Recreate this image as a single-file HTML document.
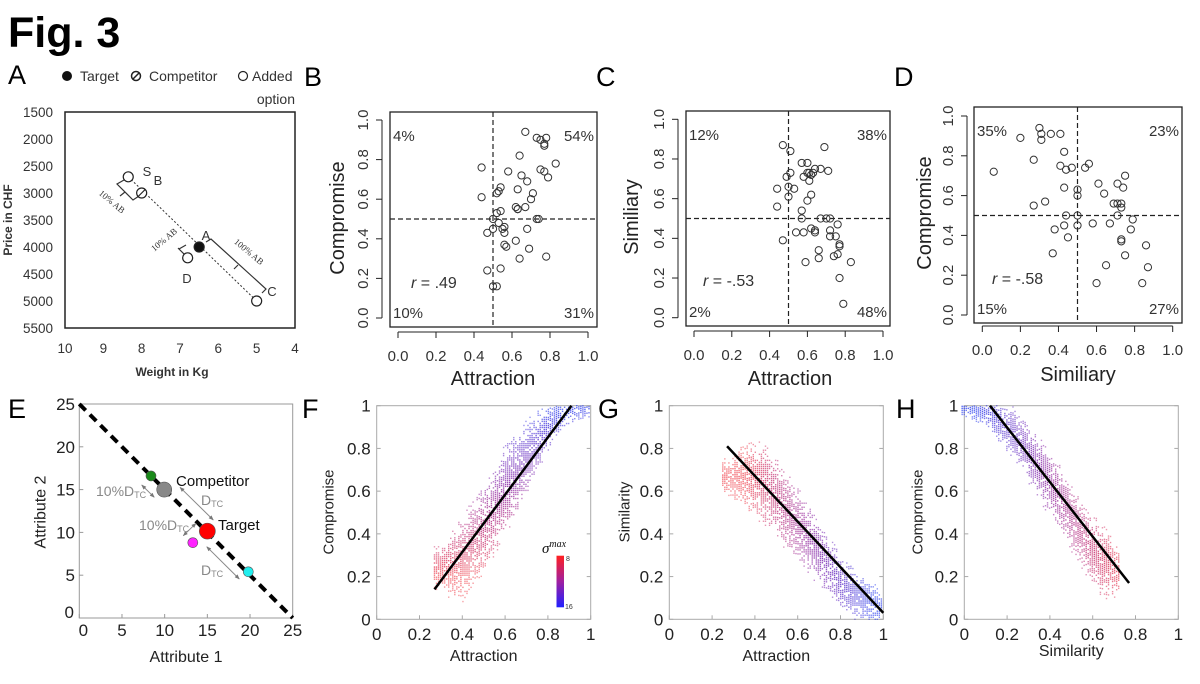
<!DOCTYPE html>
<html><head><meta charset="utf-8">
<style>
html,body{margin:0;padding:0;background:#fff;}
svg{display:block;font-family:"Liberation Sans",Arial,sans-serif;}
</style></head>
<body>
<svg id="fig" width="1200" height="684" viewBox="0 0 1200 684" xmlns="http://www.w3.org/2000/svg">
<defs>
<linearGradient id="cbar" x1="0" y1="0" x2="0" y2="1">
<stop offset="0" stop-color="#ff2020"/><stop offset="0.5" stop-color="#a020a0"/><stop offset="1" stop-color="#2020ff"/>
</linearGradient>
<marker id="arr" viewBox="0 0 10 10" refX="9" refY="5" markerWidth="5" markerHeight="5" orient="auto-start-reverse">
<path d="M0,1 L10,5 L0,9 z" fill="#777"/>
</marker>
</defs>
<text x="8" y="47" font-size="43" font-weight="bold">Fig. 3</text>
</svg>
<script>
// ---------- data ----------
// Panel A
var aWeight=[8.35,8,6.5,6.8,5];
var aPrice=[2700,3000,4000,4200,5000];
var aNames=["S","B","A","D","C"];
var aYTicks=[1500,2000,2500,3000,3500,4000,4500,5000,5500];
var aXTicks=[10,9,8,7,6,5,4];
// Panel B (attraction, compromise)
var bX=[0.67,0.73,0.75,0.78,0.77,0.77,0.64,0.83,0.44,0.75,0.77,0.79,0.58,0.65,0.68,0.54,0.53,0.52,0.63,0.71,0.44,0.70,0.63,0.62,0.63,0.67,0.54,0.52,0.73,0.74,0.50,0.53,0.56,0.50,0.55,0.68,0.47,0.56,0.62,0.56,0.57,0.69,0.78,0.64,0.54,0.47,0.50,0.52];
var bY=[0.94,0.91,0.90,0.91,0.88,0.87,0.82,0.78,0.76,0.75,0.74,0.71,0.74,0.72,0.69,0.66,0.64,0.63,0.65,0.63,0.61,0.60,0.55,0.56,0.55,0.56,0.54,0.53,0.50,0.50,0.50,0.48,0.46,0.45,0.45,0.45,0.43,0.43,0.39,0.37,0.36,0.35,0.31,0.30,0.25,0.24,0.16,0.16];
// Panel C (attraction, similarity)
var cX=[0.47,0.51,0.69,0.57,0.60,0.64,0.67,0.71,0.60,0.61,0.58,0.62,0.63,0.51,0.49,0.61,0.50,0.44,0.53,0.62,0.50,0.60,0.44,0.57,0.57,0.67,0.70,0.72,0.76,0.62,0.64,0.64,0.54,0.58,0.72,0.72,0.75,0.47,0.77,0.77,0.66,0.66,0.74,0.76,0.59,0.83,0.77,0.79];
var cY=[0.87,0.84,0.86,0.78,0.78,0.75,0.75,0.74,0.73,0.73,0.71,0.72,0.73,0.73,0.71,0.69,0.66,0.65,0.65,0.62,0.61,0.59,0.56,0.54,0.50,0.50,0.50,0.50,0.47,0.45,0.44,0.43,0.43,0.43,0.44,0.41,0.41,0.39,0.37,0.36,0.34,0.30,0.31,0.32,0.28,0.28,0.20,0.07];
// Panel D (similarity, compromise)
var dX=[0.06,0.20,0.30,0.31,0.31,0.36,0.41,0.27,0.43,0.41,0.44,0.47,0.54,0.56,0.43,0.50,0.50,0.33,0.27,0.44,0.50,0.43,0.50,0.38,0.45,0.37,0.61,0.64,0.71,0.75,0.74,0.69,0.71,0.73,0.73,0.71,0.79,0.58,0.67,0.78,0.73,0.73,0.86,0.75,0.65,0.87,0.60,0.84];
var dY=[0.72,0.89,0.94,0.91,0.88,0.91,0.91,0.78,0.82,0.75,0.73,0.74,0.74,0.76,0.64,0.63,0.60,0.57,0.55,0.50,0.50,0.45,0.45,0.43,0.39,0.31,0.66,0.61,0.66,0.70,0.64,0.56,0.56,0.56,0.54,0.50,0.48,0.46,0.46,0.43,0.38,0.37,0.35,0.30,0.25,0.24,0.16,0.16];
var rTicks=[0.0,0.2,0.4,0.6,0.8,1.0];
var rTickLabels=["0.0","0.2","0.4","0.6","0.8","1.0"];
// Panel E
var eX=[8.4,9.95,15,13.3,19.8];
var eY=[16.6,15,10.15,8.8,5.4];
var eColor=["#1a8a1a","#888888","#ff0000","#ff22ff","#22eeee"];
var eR=[5,7.5,8,5,5];
var eNames=["added-option-similarity","competitor-point","target-point","added-option-attraction","added-option-compromise"];
var eTicks=[0,5,10,15,20,25];
// Panels F,G,H density bands
var fBx=[0.30,0.35,0.40,0.45,0.50,0.55,0.60,0.65,0.70,0.75,0.80,0.85,0.90,0.95,1.00];
var fLo=[0.18,0.13,0.12,0.17,0.25,0.33,0.42,0.52,0.62,0.72,0.82,0.90,0.95,0.97,0.98];
var fHi=[0.30,0.38,0.45,0.52,0.60,0.68,0.78,0.85,0.90,0.94,0.98,1.00,1.00,1.00,1.00];
var fLine=[[0.27,0.14],[0.91,1.0]];
var gBx=[0.28,0.32,0.36,0.40,0.45,0.50,0.55,0.60,0.65,0.70,0.75,0.80,0.85,0.90,0.95,1.00];
var gLo=[0.62,0.58,0.55,0.52,0.47,0.42,0.36,0.30,0.25,0.20,0.14,0.08,0.04,0.02,0.01,0.03];
var gHi=[0.72,0.76,0.79,0.80,0.78,0.72,0.65,0.58,0.50,0.42,0.34,0.27,0.22,0.18,0.14,0.08];
var gLine=[[0.27,0.81],[1.0,0.03]];
var hBx=[0.02,0.05,0.10,0.15,0.20,0.25,0.30,0.35,0.40,0.45,0.50,0.55,0.60,0.65,0.70,0.73];
var hLo=[0.98,0.96,0.94,0.88,0.82,0.76,0.68,0.60,0.52,0.44,0.36,0.28,0.20,0.14,0.13,0.18];
var hHi=[1.00,1.00,1.00,1.00,0.98,0.94,0.88,0.82,0.75,0.68,0.60,0.52,0.45,0.40,0.34,0.28];
var hLine=[[0.12,1.0],[0.77,0.17]];
var mTicks=[0,0.2,0.4,0.6,0.8,1];
var mTickLabels=["0","0.2","0.4","0.6","0.8","1"];

// ---------- helpers ----------
var NS="http://www.w3.org/2000/svg";
var svg=document.getElementById('fig');
function mk(tag,attrs,parent){var e=document.createElementNS(NS,tag);for(var k in attrs)e.setAttribute(k,attrs[k]);(parent||svg).appendChild(e);return e;}
function txt(s,attrs,parent){var e=mk('text',attrs,parent);e.textContent=s;return e;}
function lin(a,b,t){return a+(b-a)*t;}

// panel letters
var letters=[["A",8,84],["B",304,86],["C",596,86],["D",894,86],["E",8,418],["F",302,418],["G",598,418],["H",896,418]];
letters.forEach(function(L){
  var t=txt(L[0],{x:L[1],y:L[2],'font-size':27});
  
  
});

// ---------- Panel A ----------
(function(){
  var g=mk('g',{});
  
  
  function ax(w){return 65+(10-w)*38.33;}
  function ay(p){return 112+(p-1500)*0.054;}
  var box=mk('rect',{x:65,y:112,width:230,height:216,fill:'none',stroke:'#222','stroke-width':1.5},g);
  
  
  aYTicks.forEach(function(v){
    var t=txt(String(v),{x:53,y:ay(v)+5,'font-size':13.5,'text-anchor':'end',fill:'#333'},g);
    
    
  });
  aXTicks.forEach(function(v){
    var t=txt(String(v),{x:ax(v),y:353,'font-size':13.5,'text-anchor':'middle',fill:'#333'},g);
    
    
  });
  var yt=txt("Price in CHF",{x:12,y:220,'font-size':12,'font-weight':'bold','text-anchor':'middle',transform:'rotate(-90 12 220)',fill:'#333'},g);
  
  
  var xt=txt("Weight in Kg",{x:172,y:376,'font-size':12,'font-weight':'bold','text-anchor':'middle',fill:'#333'},g);
  
  
  var dl=mk('line',{x1:ax(aWeight[0]),y1:ay(aPrice[0]),x2:ax(aWeight[4]),y2:ay(aPrice[4]),stroke:'#333','stroke-width':1,'stroke-dasharray':'2,2'},g);
  
  
  ["M124,180 L117,184 L133,200 L139,196 M125,192 L120,196","M186,245 L179,249 L186,256 L190,253 M182,252 L178,248","M206,242 L211,239 L266,289 L262,293 M238,265 L234,269"].forEach(function(d){
    var p=mk('path',{d:d,fill:'none',stroke:'#333','stroke-width':1.2},g);
    
    
  });
  [["10% AB",110,204,40],["10% AB",166,242,-40],["100% AB",247,254,40]].forEach(function(L){
    var t=txt(L[0],{x:L[1],y:L[2],'font-size':9,'font-family':'Liberation Serif, serif','text-anchor':'middle',fill:'#333',transform:'rotate('+L[3]+' '+L[1]+' '+L[2]+')'},g);
    
    
  });
  aWeight.forEach(function(w,i){
    var c=mk('circle',{cx:ax(w),cy:ay(aPrice[i]),r:5,fill:aNames[i]==='A'?'#111':'#fff',stroke:'#222','stroke-width':1.2},g);
    
    
    if(aNames[i]==='B'){
      var s=mk('line',{x1:ax(w)-3.5,y1:ay(aPrice[i])+3.5,x2:ax(w)+3.5,y2:ay(aPrice[i])-3.5,stroke:'#222','stroke-width':1.2},g);
      
      
    }
  });
  [["S",147,176],["B",158,185],["A",206,240],["D",187,283],["C",272,296]].forEach(function(L){
    var t=txt(L[0],{x:L[1],y:L[2],'font-size':13,'text-anchor':'middle',fill:'#333'},g);
    
    
  });
  var lg=mk('g',{},g);
  
  
  var c1=mk('circle',{cx:67,cy:76,r:5,fill:'#111'},lg);
  
  
  var t1=txt("Target",{x:80,y:81,'font-size':14,fill:'#333'},lg);
  
  
  var c2=mk('circle',{cx:136,cy:76,r:4.5,fill:'#fff',stroke:'#222','stroke-width':1.5},lg);
  
  
  var h2=mk('line',{x1:133,y1:79,x2:139,y2:73,stroke:'#222','stroke-width':1.5},lg);
  
  
  var t2=txt("Competitor",{x:149,y:81,'font-size':14,fill:'#333'},lg);
  
  
  var c3=mk('circle',{cx:243,cy:76,r:4.5,fill:'#fff',stroke:'#222','stroke-width':1.2},lg);
  
  
  var t3=txt("Added",{x:252,y:81,'font-size':14,fill:'#333'},lg);
  
  
  var t4=txt("option",{x:295,y:104,'font-size':14,'text-anchor':'end',fill:'#333'},lg);
  
  
})();

// ---------- R style scatter panels ----------
function rPanel(c){
  var g=mk('g',{});
  
  
  function sx(v){return c.x0+(c.x1-c.x0)*v;}
  function sy(v){return c.y0+(c.y1-c.y0)*v;}
  var box=mk('rect',{x:c.bx0,y:c.by0,width:c.bx1-c.bx0,height:c.by1-c.by0,fill:'none',stroke:'#222','stroke-width':1.3},g);
  
  
  var xa=mk('line',{x1:sx(0),y1:c.axY,x2:sx(1),y2:c.axY,stroke:'#222','stroke-width':1},g);
  
  
  var ya=mk('line',{x1:c.axX,y1:sy(0),x2:c.axX,y2:sy(1),stroke:'#222','stroke-width':1},g);
  
  
  rTicks.forEach(function(v,i){
    var tk=mk('line',{x1:sx(v),y1:c.axY,x2:sx(v),y2:c.axY+6,stroke:'#222'},g);
    
    
    var tl=txt(rTickLabels[i],{x:sx(v),y:c.axY+29,'font-size':15,'text-anchor':'middle',fill:'#333'},g);
    
    
    var tk2=mk('line',{x1:c.axX,y1:sy(v),x2:c.axX-6,y2:sy(v),stroke:'#222'},g);
    
    
    var yx=c.axX-14, yy=sy(v);
    var tl2=txt(rTickLabels[i],{x:yx,y:yy,'font-size':15,'text-anchor':'middle',transform:'rotate(-90 '+yx+' '+yy+')',fill:'#333'},g);
    
    
  });
  var vd=mk('line',{x1:sx(0.5),y1:c.by0,x2:sx(0.5),y2:c.by1,stroke:'#222','stroke-width':1.2,'stroke-dasharray':'5,3'},g);
  
  
  var hd=mk('line',{x1:c.bx0,y1:sy(0.5),x2:c.bx1,y2:sy(0.5),stroke:'#222','stroke-width':1.2,'stroke-dasharray':'5,3'},g);
  
  
  c.xs.forEach(function(v,i){
    var p=mk('circle',{cx:sx(v),cy:sy(c.ys[i]),r:3.6,fill:'none',stroke:'#333','stroke-width':1},g);
    
    
  });
  var q=c.q;
  [[q[0],c.bx0+3,c.by0+29,'start'],[q[1],c.bx1-3,c.by0+29,'end'],[q[2],c.bx0+3,c.by1-9,'start'],[q[3],c.bx1-3,c.by1-9,'end']].forEach(function(Q){
    var t=txt(Q[0],{x:Q[1],y:Q[2],'font-size':15,'text-anchor':Q[3],fill:'#333'},g);
    
    
  });
  var rt=mk('text',{x:c.rx,y:c.ry,'font-size':16,fill:'#333'},g);
  
  
  var ts=mk('tspan',{'font-style':'italic'},rt);ts.textContent='r';
  var ts2=mk('tspan',{},rt);ts2.textContent=' = '+c.r;
  var xt=txt(c.xt,{x:c.xtx,y:c.xty,'font-size':20,'text-anchor':'middle',fill:'#222'},g);
  
  
  var yt=txt(c.yt,{x:c.ytx,y:c.yty,'font-size':20,'text-anchor':'middle','dominant-baseline':'central',transform:'rotate(-90 '+c.ytx+' '+c.yty+')',fill:'#222'},g);
  
  
}
rPanel({name:'panel-b',x0:398,x1:588,y0:318,y1:120,bx0:390,bx1:597,by0:112,by1:327,axY:332,axX:382,xs:bX,ys:bY,q:['4%','54%','10%','31%'],r:'.49',rx:411,ry:288,xt:'Attraction',xtx:493,xty:385,yt:'Compromise',ytx:338,yty:218});
rPanel({name:'panel-c',x0:694,x1:883,y0:317.7,y1:119.3,bx0:686,bx1:890,by0:111,by1:326,axY:331,axX:678,xs:cX,ys:cY,q:['12%','38%','2%','48%'],r:'-.53',rx:703,ry:286,xt:'Attraction',xtx:790,xty:385,yt:'Similiary',ytx:632,yty:217});
rPanel({name:'panel-d',x0:982.3,x1:1172.7,y0:315,y1:116,bx0:974,bx1:1182,by0:107,by1:323,axY:326,axX:967,xs:dX,ys:dY,q:['35%','23%','15%','27%'],r:'-.58',rx:992,ry:284,xt:'Similiary',xtx:1078,xty:381,yt:'Compromise',ytx:925,yty:213});

// ---------- Panel E ----------
(function(){
  var g=mk('g',{});
  
  
  function sx(v){return 79.3+v*8.536;}
  function sy(v){return 618-v*8.56;}
  var box=mk('rect',{x:79.3,y:404,width:213.4,height:214,fill:'none',stroke:'#999','stroke-width':1},g);
  
  
  eTicks.forEach(function(v){
    var t1=mk('line',{x1:sx(v),y1:618,x2:sx(v),y2:614,stroke:'#999'},g);
    
    
    var t2=mk('line',{x1:79.3,y1:sy(v),x2:83.3,y2:sy(v),stroke:'#999'},g);
    
    
    var l1=txt(String(v),{x:sx(v)+(v===0?4:0),y:636,'font-size':17,'text-anchor':'middle',fill:'#222'},g);
    
    
    var l2=txt(String(v),{x:v===0?74:75,y:sy(v)+6-(v===0?6:0),'font-size':17,'text-anchor':'end',fill:'#222'},g);
    
    
  });
  var dl=mk('line',{x1:sx(0),y1:sy(25),x2:sx(25),y2:sy(0),stroke:'#000','stroke-width':4,'stroke-dasharray':'9,6'},g);
  
  
  [[141.7,485,154.3,497.3],[180,487.3,213.3,520],[183.3,535.7,196,523.3],[206.7,546.7,239.3,579]].forEach(function(a){
    var l=mk('line',{x1:a[0],y1:a[1],x2:a[2],y2:a[3],stroke:'#888','stroke-width':1,'marker-start':'url(#arr)','marker-end':'url(#arr)'},g);
    
    
  });
  eX.forEach(function(v,i){
    var c=mk('circle',{cx:sx(v),cy:sy(eY[i]),r:eR[i],fill:eColor[i],stroke:'#555','stroke-width':0.6},g);
    
    
  });
  var ct=txt("Competitor",{x:176,y:486,'font-size':15,fill:'#111'},g);
  
  
  var tt=txt("Target",{x:218,y:530,'font-size':15,fill:'#111'},g);
  
  
  function dtc(pre,x,y){
    var t=mk('text',{x:x,y:y,'font-size':14,fill:'#888'},g);
    
    
    var a=mk('tspan',{},t);a.textContent=pre+'D';
    var b=mk('tspan',{'font-size':9,dy:2},t);b.textContent='TC';
  }
  dtc('10%',96,496);dtc('',201,505);dtc('10%',139,530);dtc('',201,575);
  var xt=txt("Attribute 1",{x:186,y:662,'font-size':16,'text-anchor':'middle',fill:'#222'},g);
  
  
  var yt=txt("Attribute 2",{x:41,y:512,'font-size':16,'text-anchor':'middle','dominant-baseline':'central',transform:'rotate(-90 41 512)',fill:'#222'},g);
  
  
})();

// ---------- Density panels ----------
function interp(xs,vs,x){
  if(x<=xs[0])return vs[0];
  for(var i=1;i<xs.length;i++){if(x<=xs[i]){var t=(x-xs[i-1])/(xs[i]-xs[i-1]);return lin(vs[i-1],vs[i],t);}}
  return vs[vs.length-1];
}
function colAt(t){
  var r=Math.round(lin(240,50,t)),gg=Math.round(70-30*Math.sin(Math.PI*t)),b=Math.round(lin(80,240,t));
  return 'rgb('+r+','+gg+','+b+')';
}
function hash(i,j){var h=(i*374761393+j*668265263)|0;h=(h^(h>>>13))*1274126177|0;return ((h^(h>>>16))>>>0)%1000/1000;}
function dPanel(c){
  var g=mk('g',{});
  
  
  var X0=c.bx, W=214, Y0=405.7, H=213.6;
  function sx(v){return X0+v*W;}
  function sy(v){return Y0+H-v*H;}
  var box=mk('rect',{x:X0,y:Y0,width:W,height:H,fill:'none',stroke:'#aaa','stroke-width':1},g);
  
  
  var cells=mk('g',{},g);
  
  
  var step=0.0095, xmin=c.xs[0], xmax=c.xs[c.xs.length-1];
  for(var x=xmin-0.03;x<=xmax+1e-9;x+=step){
    var lo=interp(c.xs,c.lo,x)-0.04,hi=interp(c.xs,c.hi,x)+0.04;
    var span=hi-lo;
    var i=Math.round(x/step);
    for(var y=Math.max(0,lo);y<=Math.min(1,hi)+1e-9;y+=step){
      var j=Math.round(y/step);
      var d=Math.min(y-lo,hi-y)/(span/2+1e-6);
      var p=0.08+0.75*Math.min(1,d*1.6);
      if(hash(i+c.seed,j)>p)continue;
      var t=c.colorT(x,y);
      var r=mk('rect',{x:sx(x)-0.7,y:sy(y)-0.7,width:1.4,height:1.4,fill:colAt(t),opacity:0.5+0.35*d},cells);
      
      
    }
  }
  mTicks.forEach(function(v,k){
    var t1=mk('line',{x1:sx(v),y1:Y0+H,x2:sx(v),y2:Y0+H-4,stroke:'#aaa'},g);
    
    
    var t2=mk('line',{x1:X0,y1:sy(v),x2:X0+4,y2:sy(v),stroke:'#aaa'},g);
    
    
    var t3=mk('line',{x1:X0+W,y1:sy(v),x2:X0+W-4,y2:sy(v),stroke:'#aaa'},g);
    
    
    var l1=txt(mTickLabels[k],{x:sx(v),y:640,'font-size':17,'text-anchor':'middle',fill:'#222'},g);
    
    
    var l2=txt(mTickLabels[k],{x:X0-6,y:sy(v)+6,'font-size':17,'text-anchor':'end',fill:'#222'},g);
    
    
  });
  var fl=mk('line',{x1:sx(c.line[0][0]),y1:sy(c.line[0][1]),x2:sx(c.line[1][0]),y2:sy(c.line[1][1]),stroke:'#000','stroke-width':2.5},g);
  
  
  var xt=txt(c.xt,{x:X0+W/2,y:c.xty,'font-size':16,'text-anchor':'middle',fill:'#222'},g);
  
  
  var yt=txt(c.yt,{x:c.ytx,y:512,'font-size':15,'text-anchor':'middle','dominant-baseline':'central',transform:'rotate(-90 '+c.ytx+' 512)',fill:'#222'},g);
  
  
}
dPanel({name:'panel-f',seed:0,bx:376.7,xs:fBx,lo:fLo,hi:fHi,line:fLine,colorT:function(x,y){return Math.max(0,Math.min(1,(y-0.2)/0.8));},xt:'Attraction',xty:661,yt:'Compromise',ytx:329});
dPanel({name:'panel-g',seed:500,bx:669.3,xs:gBx,lo:gLo,hi:gHi,line:gLine,colorT:function(x,y){return Math.max(0,Math.min(1,(x-0.35)/0.6));},xt:'Attraction',xty:661,yt:'Similarity',ytx:625});
dPanel({name:'panel-h',seed:900,bx:964.3,xs:hBx,lo:hLo,hi:hHi,line:hLine,colorT:function(x,y){return Math.max(0,Math.min(1,(0.75-x)/0.7));},xt:'Similarity',xty:656,yt:'Compromise',ytx:918});

// colorbar in F
(function(){
  var g=mk('g',{});
  
  
  var r=mk('rect',{x:556.5,y:555.7,width:7.5,height:51.6,fill:'url(#cbar)'},g);
  
  
  var s=mk('text',{x:542,y:553,'font-size':15,'font-family':'Liberation Serif, serif','font-style':'italic',fill:'#111'},g);
  
  
  var a=mk('tspan',{},s);a.textContent='σ';
  var b=mk('tspan',{'font-size':10,dy:-6},s);b.textContent='max';
  var t1=txt('8',{x:566,y:561,'font-size':7,fill:'#333'},g);
  
  
  var t2=txt('16',{x:565,y:609,'font-size':7,fill:'#333'},g);
  
  
})();
</script>
</body></html>
